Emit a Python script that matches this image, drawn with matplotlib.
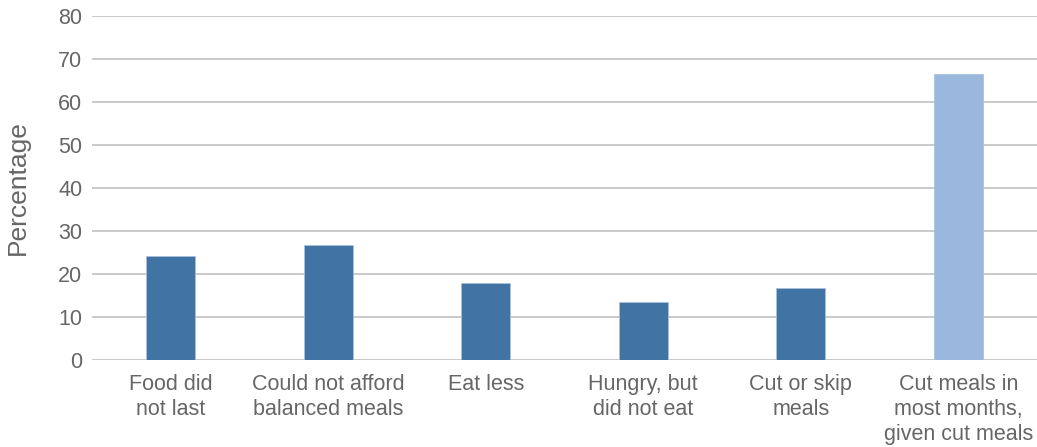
import numpy as np
import matplotlib.pyplot as plt

plt.rcParams['font.family'] = ['Liberation Sans', 'DejaVu Sans']

categories = ["Food did\nnot last", "Could not afford\nbalanced meals", "Eat less",
              "Hungry, but\ndid not eat", "Cut or skip\nmeals",
              "Cut meals in\nmost months,\ngiven cut meals"]
values = [24.2, 26.7, 17.9, 13.6, 16.7, 66.5]
bar_colors = ["#4174a3"] * 5 + ["#9ab8de"]

text_color = "#666666"
grid_color = "#c0c0c0"

fig = plt.figure(figsize=(10.37, 4.47), dpi=100)
ax = fig.add_axes([0.0887, 0.1946, 0.9113, 0.7696])

x = np.arange(len(categories))
ax.bar(x, values, width=0.31, color=bar_colors, edgecolor="#a9c1dc", linewidth=0.6, zorder=3)

ax.set_xlim(-0.5, len(categories) - 0.5)
ax.set_ylim(0, 80)
ax.set_yticks(np.arange(0, 81, 10))
ax.yaxis.grid(True, color=grid_color, linewidth=1.2, zorder=0)
ax.set_axisbelow(True)

for s in ax.spines.values():
    s.set_visible(False)

ax.set_xticks(x)
ax.set_xticklabels(categories, fontsize=15.5, color=text_color, linespacing=1.25)
ax.tick_params(axis='both', length=0, labelcolor=text_color)
ax.tick_params(axis='y', pad=7, labelsize=15.5)
ax.tick_params(axis='x', pad=10)

ax.set_ylabel("Percentage", fontsize=19, color=text_color, labelpad=20)

fig.savefig("out.png", dpi=100)
